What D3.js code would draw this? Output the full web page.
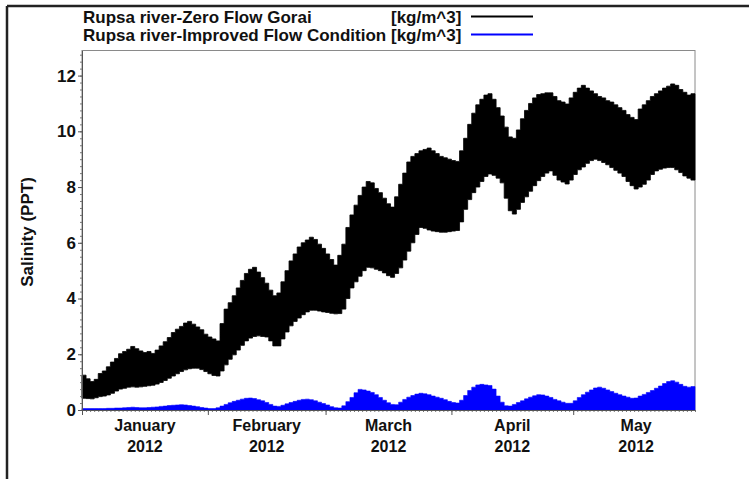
<!DOCTYPE html>
<html>
<head>
<meta charset="utf-8">
<script src="https://cdn.jsdelivr.net/npm/d3@7"></script>
<style>
  html, body { margin: 0; padding: 0; background: #fff; }
  svg { display: block; }
  text { font-family: "Liberation Sans", Arial, sans-serif; font-weight: bold; fill: #111; }
</style>
</head>
<body>
<svg id="chart" width="749" height="479"></svg>
<script>
// Daily salinity envelopes (kg/m^3 ~ PPT), 1 Jan – 30 May 2012, one value per day.
const zeroFlowHigh = [
  1.25,1.12,1.02,1.10,1.31,1.40,1.55,1.72,1.85,2.02,2.10,2.18,2.28,2.20,2.12,2.06,2.10,2.03,2.15,2.30,
  2.45,2.60,2.78,2.90,3.00,3.12,3.18,3.08,2.98,2.88,2.72,2.62,2.55,2.48,3.10,3.62,3.85,4.10,4.38,4.65,
  4.90,5.05,5.12,4.95,4.75,4.55,4.30,4.10,4.20,4.60,5.00,5.35,5.60,5.85,6.00,6.10,6.20,6.12,5.95,5.80,
  5.60,5.40,5.20,5.55,5.95,6.55,7.00,7.35,7.70,8.00,8.20,8.15,7.95,7.80,7.60,7.40,7.28,7.65,8.10,8.50,
  8.90,9.10,9.20,9.30,9.35,9.40,9.30,9.20,9.10,9.05,9.00,8.95,8.92,9.30,9.75,10.25,10.65,10.95,11.15,11.30,
  11.35,11.15,10.85,10.55,10.15,9.80,9.75,10.05,10.45,10.75,11.00,11.20,11.32,11.35,11.38,11.38,11.25,11.10,11.05,10.98,
  11.20,11.40,11.55,11.65,11.55,11.45,11.35,11.25,11.20,11.10,11.05,10.95,10.85,10.75,10.60,10.50,10.42,10.80,10.95,11.10,
  11.25,11.35,11.45,11.55,11.62,11.70,11.65,11.50,11.40,11.30,11.35
];
const zeroFlowLow = [
  0.42,0.41,0.40,0.44,0.48,0.50,0.54,0.60,0.68,0.75,0.78,0.82,0.83,0.82,0.83,0.85,0.87,0.89,0.93,0.99,
  1.06,1.14,1.22,1.30,1.38,1.44,1.48,1.50,1.50,1.45,1.38,1.30,1.24,1.22,1.40,1.62,1.82,1.98,2.15,2.32,
  2.48,2.58,2.64,2.66,2.64,2.62,2.48,2.30,2.30,2.55,2.80,3.02,3.18,3.30,3.42,3.52,3.58,3.58,3.55,3.52,
  3.50,3.47,3.45,3.46,3.62,4.00,4.38,4.60,4.80,5.00,5.12,5.10,5.05,5.00,4.92,4.82,4.76,4.90,5.10,5.38,
  5.70,6.00,6.30,6.55,6.52,6.46,6.42,6.40,6.38,6.38,6.40,6.42,6.44,6.75,7.20,7.55,7.80,8.00,8.20,8.38,
  8.47,8.42,8.32,8.15,7.60,7.15,7.03,7.20,7.45,7.65,7.85,8.05,8.23,8.38,8.50,8.58,8.42,8.25,8.18,8.11,
  8.25,8.45,8.62,8.72,8.85,8.95,9.00,8.95,8.88,8.80,8.70,8.60,8.50,8.38,8.20,8.05,7.93,8.00,8.10,8.25,
  8.45,8.58,8.64,8.68,8.70,8.70,8.62,8.52,8.40,8.32,8.25
];
const improvedHigh = [
  0.05,0.05,0.05,0.05,0.05,0.05,0.06,0.06,0.07,0.07,0.08,0.09,0.10,0.09,0.08,0.08,0.09,0.10,0.11,0.13,
  0.14,0.16,0.17,0.18,0.19,0.18,0.16,0.14,0.12,0.09,0.07,0.05,0.05,0.08,0.14,0.20,0.26,0.31,0.35,0.39,
  0.42,0.43,0.41,0.37,0.33,0.27,0.20,0.14,0.13,0.17,0.22,0.27,0.31,0.35,0.38,0.39,0.37,0.33,0.28,0.23,
  0.18,0.12,0.08,0.07,0.15,0.30,0.45,0.62,0.74,0.72,0.68,0.63,0.55,0.45,0.35,0.26,0.20,0.19,0.28,0.38,
  0.46,0.52,0.57,0.60,0.58,0.55,0.50,0.46,0.42,0.37,0.31,0.27,0.25,0.35,0.52,0.70,0.82,0.90,0.92,0.90,
  0.88,0.75,0.50,0.28,0.15,0.14,0.20,0.27,0.33,0.40,0.46,0.51,0.55,0.54,0.50,0.45,0.38,0.33,0.28,0.24,
  0.24,0.33,0.45,0.55,0.64,0.72,0.79,0.82,0.78,0.72,0.66,0.60,0.55,0.50,0.46,0.42,0.43,0.50,0.56,0.63,
  0.70,0.78,0.86,0.95,1.02,1.05,1.00,0.92,0.85,0.82,0.84
];

const yTicks = [0, 2, 4, 6, 8, 10, 12];
const monthNames = ["January", "February", "March", "April", "May"];
const yearLabel = "2012";
const seriesNames = ["Rupsa river-Zero Flow Gorai", "Rupsa river-Improved Flow Condition"];
const unitLabel = "[kg/m^3]";
const seriesColors = ["#000000", "#0000ff"];

const start = new Date(2012, 0, 1);
const end = new Date(2012, 4, 31);

const svg = d3.select("#chart");

// Outer frame (top and left edges)
svg.append("line").attr("x1", 7).attr("x2", 749).attr("y1", 6).attr("y2", 6)
  .attr("stroke", "#222").attr("stroke-width", 2.5);
svg.append("line").attr("x1", 7).attr("x2", 7).attr("y1", 6).attr("y2", 479)
  .attr("stroke", "#222").attr("stroke-width", 2.5);

const x = d3.scaleTime().domain([start, end]).range([82, 695]);
const y = d3.scaleLinear().domain([0, 12.9]).range([410, 50.5]);

// Plot frame
svg.append("rect").attr("x", x.range()[0]).attr("y", y.range()[1])
  .attr("width", x.range()[1] - x.range()[0]).attr("height", y.range()[0] - y.range()[1])
  .attr("fill", "none").attr("stroke", "#8a8a8a").attr("stroke-width", 1);

function toPoints(hi, lo) {
  const pts = hi.map((h, i) => ({ t: d3.timeDay.offset(start, i), hi: h, lo: lo ? lo[i] : 0 }));
  const last = pts[pts.length - 1];
  pts.push({ t: d3.timeDay.offset(start, hi.length), hi: last.hi, lo: last.lo });
  return pts;
}

const band = d3.area()
  .curve(d3.curveStepAfter)
  .x(d => x(d.t))
  .y0(d => y(d.lo))
  .y1(d => y(d.hi));

const plot = svg.append("g");
plot.append("path").datum(toPoints(zeroFlowHigh, zeroFlowLow))
  .attr("d", band).attr("fill", seriesColors[0])
  .attr("stroke", seriesColors[0]).attr("stroke-width", 0.8);
plot.append("path").datum(toPoints(improvedHigh, null))
  .attr("d", band).attr("fill", seriesColors[1])
  .attr("stroke", seriesColors[1]).attr("stroke-width", 0.6);

// Y axis: minor ticks, then major ticks with labels
const yMinor = d3.range(0, 12.9, 0.25);
svg.append("g").attr("transform", `translate(${x.range()[0]},0)`)
  .call(d3.axisLeft(y).tickValues(yMinor).tickSize(2).tickFormat(""))
  .call(g => g.select(".domain").remove())
  .selectAll("line").attr("stroke", "#777");
const yAxis = svg.append("g").attr("transform", `translate(${x.range()[0]},0)`)
  .call(d3.axisLeft(y).tickValues(yTicks).tickSize(4).tickPadding(2).tickSizeOuter(0));
yAxis.select(".domain").attr("stroke", "#555");
yAxis.selectAll("line").attr("stroke", "#555");
yAxis.selectAll("text").attr("font-size", 17).attr("font-family", "Liberation Sans, Arial, sans-serif")
  .attr("font-weight", "bold").attr("fill", "#111");

// X axis: daily minor ticks and monthly major ticks
svg.append("g").attr("transform", `translate(0,${y.range()[0]})`)
  .call(d3.axisBottom(x).ticks(d3.timeDay.every(1)).tickSize(2).tickFormat(""))
  .call(g => g.select(".domain").remove())
  .selectAll("line").attr("stroke", "#777");
const xAxis = svg.append("g").attr("transform", `translate(0,${y.range()[0]})`)
  .call(d3.axisBottom(x).ticks(d3.timeMonth.every(1)).tickSize(5).tickSizeOuter(0).tickFormat(""));
xAxis.select(".domain").attr("stroke", "#555");
xAxis.selectAll("line").attr("stroke", "#555");

const months = d3.timeMonth.range(start, end);
const mLabels = svg.append("g");
months.forEach((m, i) => {
  const mid = new Date((+m + +d3.timeMonth.offset(m, 1)) / 2);
  const cx = x(mid);
  const t = mLabels.append("text").attr("text-anchor", "middle").attr("font-size", 16);
  t.append("tspan").attr("x", cx).attr("y", 431).text(monthNames[i]);
  t.append("tspan").attr("x", cx).attr("y", 452).text(yearLabel);
});

// Y axis title
svg.append("text").attr("transform", "translate(33,232) rotate(-90)")
  .attr("text-anchor", "middle").attr("font-size", 17).text("Salinity (PPT)");

// Legend
const legend = svg.append("g");
seriesNames.forEach((name, i) => {
  const cy = 16.5 + i * 18;
  legend.append("text").attr("x", 83).attr("y", cy + 6).attr("font-size", 17).text(name);
  legend.append("text").attr("x", 391).attr("y", cy + 6).attr("font-size", 17).text(unitLabel);
  legend.append("line").attr("x1", 471).attr("x2", 533).attr("y1", cy).attr("y2", cy)
    .attr("stroke", seriesColors[i]).attr("stroke-width", 2.2);
});
</script>
</body>
</html>
